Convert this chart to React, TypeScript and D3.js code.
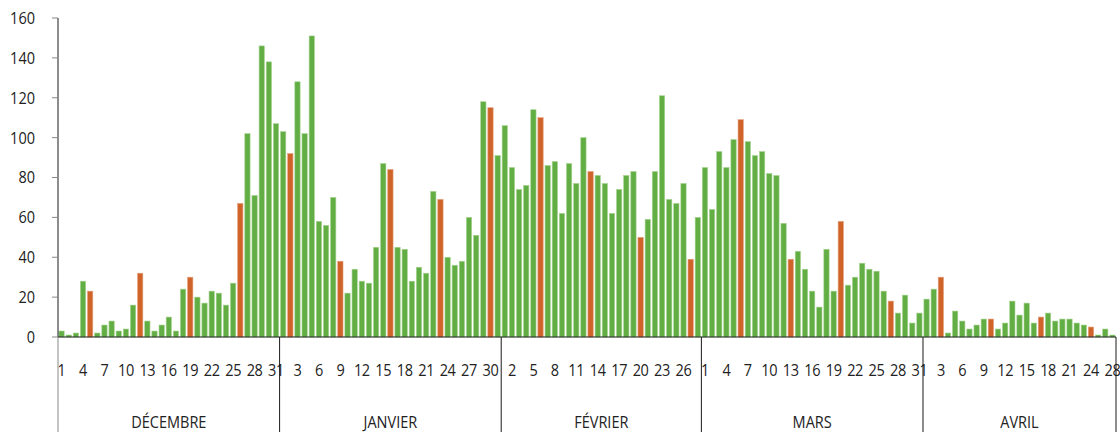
import React, {useRef, useEffect} from 'react';
import * as d3 from 'd3';

// daily counts, one array per month
const months = ['DÉCEMBRE', 'JANVIER', 'FÉVRIER', 'MARS', 'AVRIL'];
const decValues = [3,1,2,28,23,2,6,8,3,4,16,32,8,3,6,10,3,24,30,20,17,23,22,16,27,67,102,71,146,138,107];
const janValues = [103,92,128,102,151,58,56,70,38,22,34,28,27,45,87,84,45,44,28,35,32,73,69,40,36,38,60,51,118,115,91];
const febValues = [106,85,74,76,114,110,86,88,62,87,77,100,83,81,77,62,74,81,83,50,59,83,121,69,67,77,39,60];
const marValues = [85,64,93,85,99,109,98,91,93,82,81,57,39,43,34,23,15,44,23,58,26,30,37,34,33,23,18,12,21,7,12];
const aprValues = [19,24,30,2,13,8,4,6,9,9,4,7,18,11,17,7,10,12,8,9,9,7,6,5,1,4,1];
// days drawn in orange
const decSundays = [5,12,19,26];
const janSundays = [2,9,16,23,30];
const febSundays = [6,13,20,27];
const marSundays = [6,13,20,27];
const aprSundays = [3,10,17,24];
// april has no bar for the 27th
const aprDays = [1,2,3,4,5,6,7,8,9,10,11,12,13,14,15,16,17,18,19,20,21,22,23,24,25,26,28];
const yTicks = [0,20,40,60,80,100,120,140,160];

export default function App(){
    const ref = useRef<SVGSVGElement>(null);

    const width = 1120;
    const height = 432;
    const margin = {top: 18, left: 58, right: 4, bottom: 95};
    const green = '#62ae45';
    const orange = '#cf6329';
    const font = '"Open Sans", "Noto Sans", sans-serif';
    const squeeze = 0.88; // the source font is a condensed one

    useEffect(() => {
        const monthValues = [decValues, janValues, febValues, marValues, aprValues];
        const monthSundays = [decSundays, janSundays, febSundays, marSundays, aprSundays];
        const data: {i: number, m: number, day: number, value: number, sunday: boolean}[] = [];
        monthValues.forEach((vals, m) => {
            vals.forEach((v, k) => {
                const day = m === 4 ? aprDays[k] : k + 1;
                data.push({i: data.length, m, day, value: v, sunday: monthSundays[m].includes(day)});
            });
        });

        const svg = d3.select(ref.current);
        svg.selectAll('*').remove();

        const x = d3.scaleBand<number>()
            .domain(data.map(d => d.i))
            .range([margin.left, width - margin.right])
            .paddingInner(0.26)
            .paddingOuter(0.13);
        const y = d3.scaleLinear().domain([0, 160]).range([height - margin.bottom, margin.top]);
        const step = x.step();
        const x0 = margin.left;
        const base = y(0);
        const place = (px: number, py: number) => `translate(${px},${py}) scale(${squeeze},1)`;

// bars
        svg.append('g')
            .selectAll('rect')
            .data(data)
            .enter()
            .append('rect')
            .attr('x', d => x(d.i)!)
            .attr('y', d => y(d.value))
            .attr('width', x.bandwidth())
            .attr('height', d => base - y(d.value))
            .attr('fill', d => d.sunday ? orange : green)
            .attr('stroke', d => d.sunday ? '#e3a07c' : '#a6d490')
            .attr('stroke-width', 0.6);

// y axis
        const yAxis = svg.append('g');
        yAxis.append('line')
            .attr('x1', x0).attr('x2', x0)
            .attr('y1', y(160)).attr('y2', base)
            .attr('stroke', '#1a1a1a');
        yAxis.selectAll('.tick')
            .data(yTicks)
            .enter()
            .append('line')
            .attr('x1', x0 - 6).attr('x2', x0)
            .attr('y1', d => y(d)).attr('y2', d => y(d))
            .attr('stroke', '#888');
        yAxis.selectAll('text')
            .data(yTicks)
            .enter()
            .append('text')
            .attr('transform', d => place(35, y(d)))
            .attr('dy', '0.36em')
            .attr('text-anchor', 'end')
            .style('font-family', font)
            .style('font-size', '16.5px')
            .attr('fill', '#222')
            .text(d => d);

// x axis
        const xAxis = svg.append('g');
        xAxis.append('line')
            .attr('x1', x0).attr('x2', width - margin.right)
            .attr('y1', base).attr('y2', base)
            .attr('stroke', '#1a1a1a');
        xAxis.selectAll('text.day')
            .data(data.filter(d => d.i % 3 === 0))
            .enter()
            .append('text')
            .attr('class', 'day')
            .attr('transform', d => place(x(d.i)! + x.bandwidth() / 2, 370))
            .attr('dy', '0.36em')
            .attr('text-anchor', 'middle')
            .style('font-family', font)
            .style('font-size', '16.5px')
            .style('letter-spacing', '-0.4px')
            .attr('fill', '#222')
            .text(d => d.day);

// month separators and names
        let start = 0;
        const bounds: number[] = [0];
        monthValues.forEach(vals => { start += vals.length; bounds.push(start); });
        xAxis.selectAll('line.sep')
            .data(bounds)
            .enter()
            .append('line')
            .attr('class', 'sep')
            .attr('x1', d => x0 + d * step).attr('x2', d => x0 + d * step)
            .attr('y1', base).attr('y2', height)
            .attr('stroke', (d, k) => k === 0 ? '#888' : '#1a1a1a');
        xAxis.selectAll('text.month')
            .data(months)
            .enter()
            .append('text')
            .attr('class', 'month')
            .attr('transform', (d, k) => place(x0 + (bounds[k] + bounds[k + 1]) / 2 * step, 422))
            .attr('dy', '0.36em')
            .attr('text-anchor', 'middle')
            .style('font-family', font)
            .style('font-size', '16.5px')
            .attr('fill', '#222')
            .text(d => d);
    }, []);

    return(
        <div style={{position: 'absolute', left: 0, top: 0, background: '#fff'}}>
            <svg ref={ref} width={width} height={height}/>
        </div>
    )
}
